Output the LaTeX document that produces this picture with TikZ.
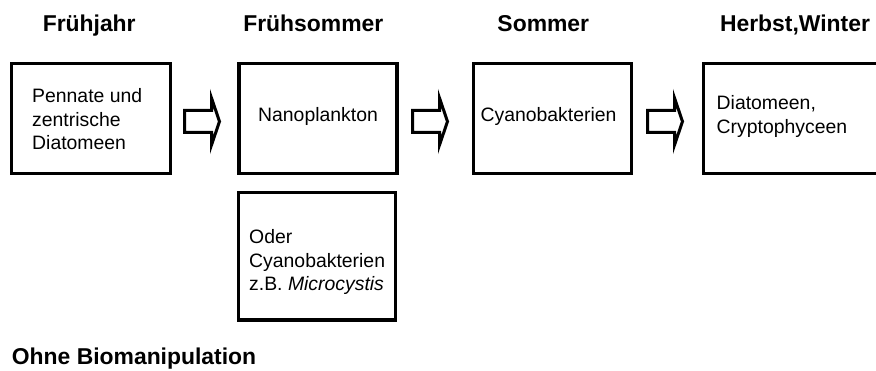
\documentclass[tikz,border=0pt]{standalone}
\usepackage{fontspec}
\setmainfont{Liberation Sans}
\usetikzlibrary{calc}
\begin{document}
\begin{tikzpicture}[x=1pt,y=-1pt,
  box/.style={draw, line width=3.1pt, inner sep=0pt},
  txt/.style={font=\fontsize{19.4}{23.6}\selectfont, align=left, inner sep=0pt},
  title/.style={font=\fontsize{22.9}{27}\selectfont\bfseries, inner sep=0pt},
  blockarrow/.style={draw, line width=3pt, miter limit=10}]
\useasboundingbox (0,0) rectangle (876,371);
% boxes
\node[box, minimum width=158.5pt, minimum height=110pt] (b1) at (91,118.5) {};
\node[box, minimum width=158pt, minimum height=110pt] (b2) at (318,118.5) {};
\node[box, minimum width=158.4pt, minimum height=110pt] (b3) at (552.5,118.5) {};
\node[box, minimum width=180pt, minimum height=110pt] (b4) at (793.3,118.5) {};
\node[box, minimum width=156.7pt, minimum height=127.7pt] (b5) at (316.7,256.2) {};
% texts (base anchor = baseline of the last line)
\node[txt, anchor=base west] (t1) at (32,150) {Pennate und\\zentrische\\Diatomeen};
\node[txt, anchor=base] (t2) at (318,122) {Nanoplankton};
\node[txt, anchor=base] (t3) at (548.5,122) {Cyanobakterien};
\node[txt, anchor=base west] (t4) at (716.5,133.5) {Diatomeen,\\Cryptophyceen};
\node[txt, anchor=base west] (t5) at (249,291) {Oder\\Cyanobakterien\\z.B. \textit{Microcystis}};
% titles
\node[title, anchor=base] (h1) at (89.2,32) {Frühjahr};
\node[title, anchor=base] (h2) at (313.3,32) {Frühsommer};
\node[title, anchor=base] (h3) at (543.3,32) {Sommer};
\node[title, anchor=base] (h4) at (795,32) {Herbst,Winter};
\node[title, anchor=base west] (h5) at (11.7,365) {Ohne Biomanipulation};
% block arrows
\coordinate (a1) at (201.5,121.5);
\coordinate (a2) at (429.5,121.5);
\coordinate (a3) at (664.5,121.5);
\foreach \a in {a1,a2,a3}{
  \draw[blockarrow] ([shift={(-17,-11)}]\a) -- ([shift={(10,-11)}]\a)
    -- ([shift={(10,-23.5)}]\a) -- ([shift={(18,0)}]\a)
    -- ([shift={(10,23.5)}]\a) -- ([shift={(10,11)}]\a)
    -- ([shift={(-17,11)}]\a) -- cycle;
}
\end{tikzpicture}
\end{document}
